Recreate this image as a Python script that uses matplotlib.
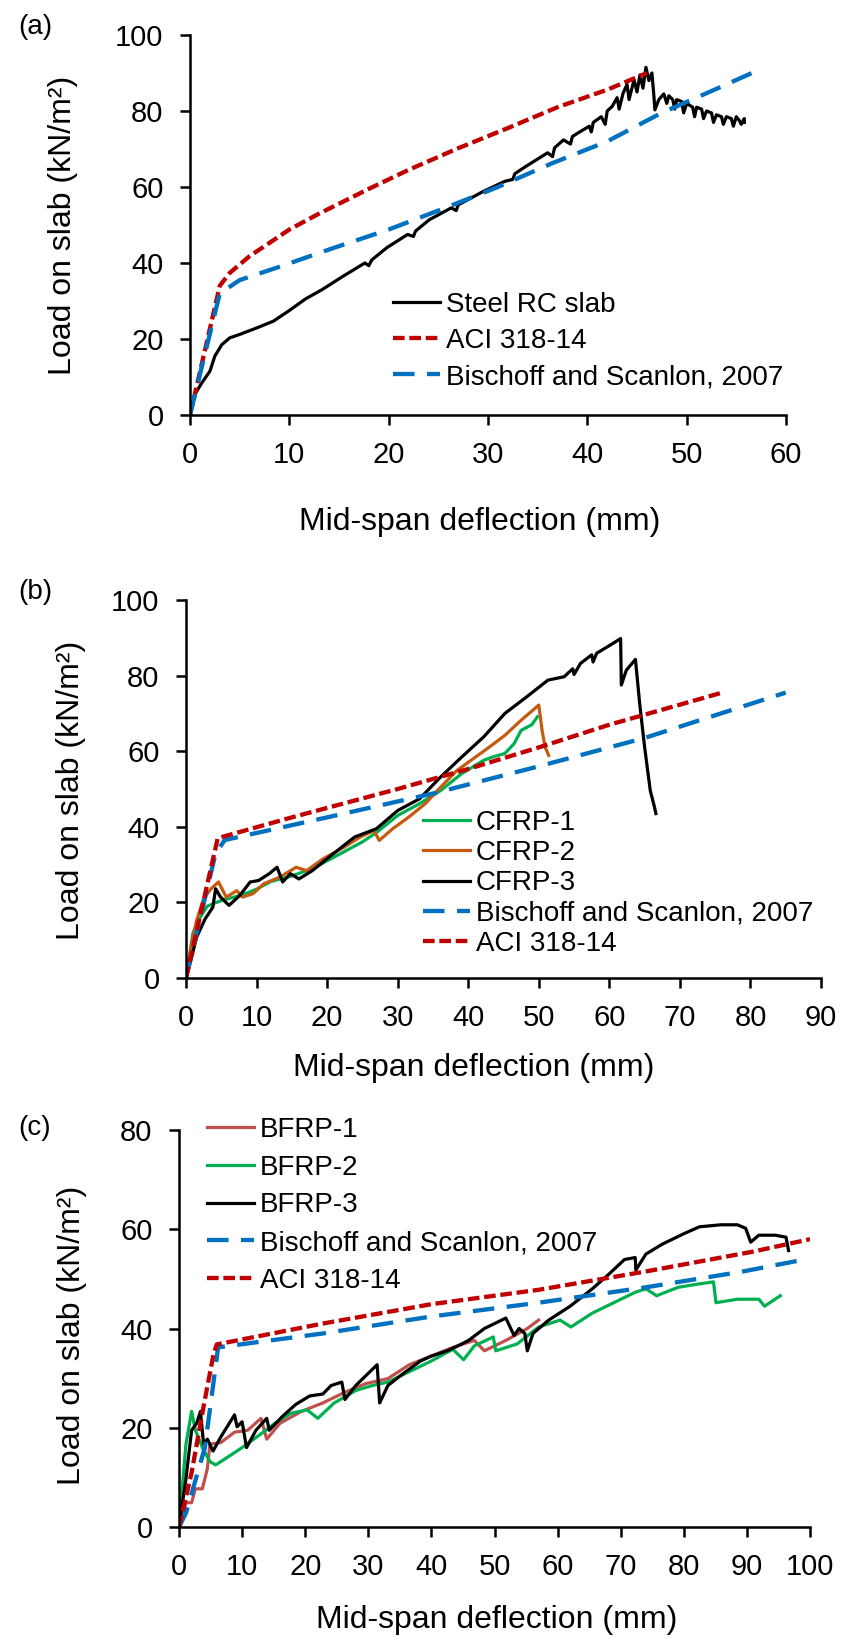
import numpy as np
import matplotlib.pyplot as plt

plt.rcParams['font.family'] = ['Liberation Sans', 'DejaVu Sans']

# colours
BLACK = '#000000'
RED = '#C00000'
BLUE = '#0070C0'
GREEN = '#00B050'
BROWN = '#C55A11'
ROSE = '#C0504D'

# ---------------- (a) steel RC slab ----------------
steel_x = [0, 0.5, 1.2, 2.0, 2.5, 3.2, 4.0, 5.0, 6.8, 8.4, 10.0, 11.6, 13.3, 15.4,
           17.6, 18.0, 18.3, 19.8, 21.9, 22.5, 22.7, 24.1, 26.3, 26.8, 27.0, 29.5,
           31.7, 32.5, 32.7, 33.8, 36.0, 36.5, 36.7, 37.6, 38.3, 38.5, 39.3, 40.2,
           40.4, 40.6, 41.4, 41.8, 42.0, 42.5, 43.0, 43.2, 43.6, 44.0, 44.2, 44.7,
           45.0, 45.3, 45.6, 45.9, 46.2, 46.5, 46.7, 46.8, 47.2, 47.7, 48.0, 48.2,
           48.6, 48.8, 49.0, 49.5, 49.7, 50.0, 50.6, 50.8, 51.0, 51.5, 51.7, 52.0,
           52.5, 52.7, 53.0, 53.5, 53.7, 54.0, 54.5, 54.7, 55.0, 55.3, 55.5, 55.8, 55.8]
steel_y = [0, 5.5, 8.5, 11.5, 15.5, 18.5, 20.3, 21.2, 23.0, 24.7, 27.5, 30.5, 33.0, 36.5,
           40.0, 39.3, 40.8, 44.0, 47.5, 47.0, 48.4, 51.4, 54.5, 53.8, 55.3, 58.8,
           61.5, 62.0, 63.5, 65.4, 69.0, 68.0, 70.3, 72.4, 71.3, 73.3, 74.6, 76.0,
           74.5, 77.0, 78.5, 76.5, 80.0, 81.2, 83.5, 80.5, 84.7, 87.0, 83.0, 88.2,
           85.0, 89.5, 86.0, 91.5, 88.0, 90.0, 84.0, 80.3, 83.0, 84.5, 82.0, 84.0,
           83.0, 80.5, 83.0, 82.5, 79.5, 82.0, 81.0, 78.5, 81.0, 80.5, 78.0, 80.0,
           79.5, 77.0, 79.0, 78.5, 76.5, 78.5, 78.0, 76.0, 78.5, 77.5, 76.5, 78.0, 77.0]

aci_a_x = [0, 3.0, 4.0, 6.0, 10.0, 13.0, 18.0, 22.0, 27.0, 32.0, 37.0, 42.0, 46.0]
aci_a_y = [0, 34.0, 37.4, 41.8, 48.8, 53.0, 59.5, 64.5, 70.2, 75.5, 81.0, 85.6, 90.0]

bs_a_x = [0, 3.0, 5.0, 9.0, 14.5, 20.0, 25.7, 31.0, 36.5, 42.0, 47.4, 52.8, 57.0]
bs_a_y = [0, 32.0, 35.5, 39.0, 44.0, 48.8, 54.5, 60.0, 66.3, 72.0, 79.4, 85.6, 90.5]

# ---------------- (b) CFRP slabs ----------------
cfrp1_x = [0, 1.0, 2.0, 3.0, 5.0, 8.0, 10.0, 12.0, 15.0, 18.0, 20.0, 23.0, 25.0, 27.0,
           30.0, 33.0, 36.1, 39.1, 42.2, 43.5, 45.2, 46.5, 47.5, 49.0, 49.8]
cfrp1_y = [0, 12.0, 16.0, 19.0, 20.5, 22.0, 23.5, 25.5, 27.0, 29.0, 31.0, 34.0, 36.0, 38.5,
           43.0, 46.0, 49.6, 54.1, 57.6, 58.5, 59.4, 62.0, 65.5, 67.0, 69.1]

cfrp2_x = [0, 0.8, 1.5, 2.5, 3.5, 4.6, 5.7, 7.2, 8.0, 9.5, 11.0, 13.3, 15.6, 17.1,
           19.4, 22.4, 24.7, 26.6, 27.4, 29.3, 31.6, 33.9, 36.1, 38.4, 40.7, 43.0,
           45.2, 47.5, 50.0, 50.5, 50.9, 51.4]
cfrp2_y = [0, 9.0, 15.2, 21.0, 23.5, 25.4, 21.4, 23.1, 21.4, 22.3, 24.9, 26.7, 29.3, 28.4,
           31.5, 34.6, 37.3, 39.0, 36.4, 39.5, 42.6, 46.1, 50.5, 54.9, 58.0, 61.1,
           64.2, 68.2, 72.2, 65.1, 61.1, 58.9]

cfrp3_x = [0, 0.8, 1.5, 2.7, 3.8, 4.2, 4.9, 6.1, 7.6, 9.1, 10.3, 11.8, 12.9, 13.7,
           14.8, 16.0, 17.9, 20.9, 23.9, 27.0, 30.0, 33.1, 36.1, 39.1, 42.2, 45.2,
           48.3, 51.3, 53.6, 54.8, 55.0, 55.9, 57.5, 57.7, 58.2, 60.5, 61.6, 61.7,
           62.4, 63.7, 64.3, 65.0, 65.8, 66.4, 66.6]
cfrp3_y = [0, 5.5, 10.8, 15.6, 18.7, 23.6, 21.4, 19.2, 21.8, 25.4, 25.8, 27.6, 29.3, 25.4,
           27.6, 26.2, 28.4, 32.9, 37.3, 39.5, 44.3, 47.4, 53.2, 58.5, 63.8, 70.0,
           74.4, 78.8, 79.7, 81.8, 80.3, 83.2, 85.5, 83.6, 85.9, 88.5, 89.8, 77.5,
           81.4, 84.3, 72.6, 61.1, 49.6, 45.2, 43.5]

bs_b_x = [0, 4.2, 5.5, 20.0, 35.0, 50.0, 65.0, 85.0]
bs_b_y = [0, 33.0, 36.5, 42.5, 48.8, 56.0, 63.5, 75.5]

aci_b_x = [0, 4.5, 15.0, 30.0, 40.0, 50.0, 60.0, 76.0]
aci_b_y = [0, 37.0, 42.5, 50.0, 55.3, 61.0, 67.0, 75.5]

# ---------------- (c) BFRP slabs ----------------
bfrp1_x = [0, 1.1, 2.0, 2.6, 3.7, 4.5, 4.9, 6.6, 8.8, 10.9, 13.0, 13.9, 16.0, 19.4,
           22.8, 26.2, 29.6, 33.1, 36.5, 39.9, 43.4, 46.8, 48.4, 51.8, 55.2, 57.0]
bfrp1_y = [0, 4.9, 4.9, 7.7, 7.7, 11.8, 16.7, 17.0, 19.1, 19.5, 21.9, 17.7, 20.9, 23.3,
           25.0, 27.1, 28.9, 29.9, 32.7, 34.4, 36.2, 37.6, 35.5, 37.6, 40.0, 41.7]

bfrp2_x = [0, 1.1, 2.0, 2.6, 3.7, 4.9, 5.8, 7.5, 10.0, 12.6, 15.2, 17.7, 20.3, 22.0,
           24.6, 28.0, 30.6, 33.1, 36.5, 39.9, 43.4, 45.1, 46.8, 49.8, 50.2, 53.6,
           57.0, 60.4, 62.1, 65.5, 68.9, 72.3, 74.0, 75.7, 79.1, 82.5, 84.7, 85.1,
           88.5, 91.9, 92.8, 95.3]
bfrp2_y = [0, 16.7, 23.3, 19.5, 16.0, 13.2, 12.5, 13.9, 16.0, 18.4, 20.9, 22.9, 23.6, 21.9,
           25.0, 27.5, 28.5, 29.2, 31.3, 33.4, 35.8, 33.7, 36.5, 38.3, 35.5, 36.9,
           40.3, 41.7, 40.3, 43.1, 45.2, 47.3, 48.0, 46.6, 48.3, 49.0, 49.4, 45.2,
           45.9, 45.9, 44.5, 46.6]

bfrp3_x = [0, 1.1, 2.0, 2.8, 3.4, 3.9, 4.5, 5.4, 6.6, 8.8, 9.2, 10.0, 10.7, 12.2,
           13.9, 14.3, 16.4, 18.5, 20.7, 22.8, 24.1, 25.8, 26.3, 28.0, 31.4, 31.8,
           33.1, 35.2, 38.2, 39.9, 42.5, 44.2, 45.9, 48.4, 51.8, 53.1, 53.9, 54.8,
           55.2, 56.1, 58.6, 62.0, 65.5, 68.0, 70.6, 72.3, 72.4, 74.0, 76.6, 80.0,
           82.5, 85.9, 88.5, 89.8, 90.6, 91.9, 94.5, 96.2, 96.6]
bfrp3_y = [0, 9.7, 19.5, 20.9, 23.3, 16.7, 17.7, 15.3, 18.1, 22.6, 20.2, 21.2, 16.0, 19.5,
           21.9, 19.5, 22.3, 24.7, 26.4, 26.8, 28.5, 29.2, 25.7, 28.5, 32.7, 25.0,
           28.5, 30.6, 33.4, 34.4, 35.5, 36.5, 37.6, 40.0, 42.1, 38.6, 40.0, 39.0,
           35.5, 39.0, 41.7, 44.5, 48.0, 50.8, 53.9, 54.3, 51.8, 55.0, 57.0, 59.1,
           60.5, 60.9, 60.9, 60.2, 57.4, 58.8, 58.8, 58.4, 55.7]

bs_c_x = [0, 1.1, 4.1, 5.4, 6.2, 22.8, 39.9, 57.0, 74.0, 89.4, 97.9]
bs_c_y = [0, 2.8, 16.0, 28.5, 36.2, 39.0, 42.4, 45.2, 48.3, 51.5, 53.6]

aci_c_x = [0, 2.0, 4.0, 5.5, 6.0, 10.0, 22.8, 40.0, 57.0, 74.0, 91.0, 100.0]
aci_c_y = [0, 11.0, 25.0, 35.0, 36.8, 37.8, 41.0, 44.9, 47.8, 51.5, 55.5, 58.0]

W, H = 842, 1639
fig = plt.figure(figsize=(W / 100, H / 100), dpi=100)


def make_axes(x0, x1, ytop, ybot):
    return fig.add_axes([x0 / W, 1 - ybot / H, (x1 - x0) / W, (ybot - ytop) / H])


def style_axes(ax, xmax, xstep, ymax):
    ax.set_xlim(0, xmax)
    ax.set_ylim(0, ymax)
    ax.set_xticks(np.arange(0, xmax + 1, xstep))
    ax.set_yticks(np.arange(0, ymax + 1, 20))
    for s in ['top', 'right']:
        ax.spines[s].set_visible(False)
    for s in ['left', 'bottom']:
        ax.spines[s].set_linewidth(1.8)
    ax.tick_params(direction='out', length=7, width=1.8, labelsize=21, pad=12)
    ax.patch.set_alpha(0)


SOLID = dict(lw=2.3, solid_joinstyle='round')
ACI_STYLE = dict(color=RED, lw=3.1, dashes=(2.7, 1.1))
BS_STYLE = dict(color=BLUE, lw=3.1, dashes=(5.0, 2.9))
LEG = dict(frameon=False, fontsize=20, handlelength=1.7, handletextpad=0.2,
           borderpad=0, borderaxespad=0)


def fig_text(x, y, s, **kw):
    fig.text(x / W, 1 - y / H, s, ha='center', va='center', **kw)


# (a)
ax = make_axes(190, 786, 35, 415)
ax.plot(steel_x, steel_y, color=BLACK, label='Steel RC slab', **SOLID)
ax.plot(aci_a_x, aci_a_y, label='ACI 318-14', **ACI_STYLE)
ax.plot(bs_a_x, bs_a_y, label='Bischoff and Scanlon, 2007', **BS_STYLE)
style_axes(ax, 60, 10, 100)
ax.legend(loc='upper left', bbox_to_anchor=((393 - 190) / 596, (415 - 292) / 380),
          labelspacing=0.36, **LEG)

# (b)
ax = make_axes(186, 821, 600, 978)
ax.plot(cfrp1_x, cfrp1_y, color=GREEN, label='CFRP-1', **SOLID)
ax.plot(cfrp2_x, cfrp2_y, color=BROWN, label='CFRP-2', **SOLID)
ax.plot(cfrp3_x, cfrp3_y, color=BLACK, label='CFRP-3', **SOLID)
ax.plot(bs_b_x, bs_b_y, label='Bischoff and Scanlon, 2007', **BS_STYLE)
ax.plot(aci_b_x, aci_b_y, label='ACI 318-14', **ACI_STYLE)
style_axes(ax, 90, 10, 100)
ax.legend(loc='upper left', bbox_to_anchor=((423 - 186) / 635, (978 - 810) / 378),
          labelspacing=0.15, **LEG)

# (c)
ax = make_axes(179, 810, 1130, 1527)
ax.plot(bfrp1_x, bfrp1_y, color=ROSE, label='BFRP-1', **SOLID)
ax.plot(bfrp2_x, bfrp2_y, color=GREEN, label='BFRP-2', **SOLID)
ax.plot(bfrp3_x, bfrp3_y, color=BLACK, label='BFRP-3', **SOLID)
ax.plot(bs_c_x, bs_c_y, label='Bischoff and Scanlon, 2007', **BS_STYLE)
ax.plot(aci_c_x, aci_c_y, label='ACI 318-14', **ACI_STYLE)
style_axes(ax, 100, 10, 80)
ax.legend(loc='upper left', bbox_to_anchor=((207 - 179) / 631, (1527 - 1117) / 397),
          labelspacing=0.42, **LEG)

# panel letters and axis titles
for letter, y in [('(a)', 27), ('(b)', 592), ('(c)', 1128)]:
    fig_text(35, y, letter, fontsize=20)
ylab = 'Load on slab (kN/m²)'
fig_text(63, 225, ylab, fontsize=23, rotation=90)
fig_text(71, 790, ylab, fontsize=23, rotation=90)
fig_text(72, 1335, ylab, fontsize=23, rotation=90)
xlab = 'Mid-span deflection (mm)'
fig_text(480, 522, xlab, fontsize=23)
fig_text(474, 1068, xlab, fontsize=23)
fig_text(497, 1620, xlab, fontsize=23)

fig.savefig('out.png', dpi=100)
